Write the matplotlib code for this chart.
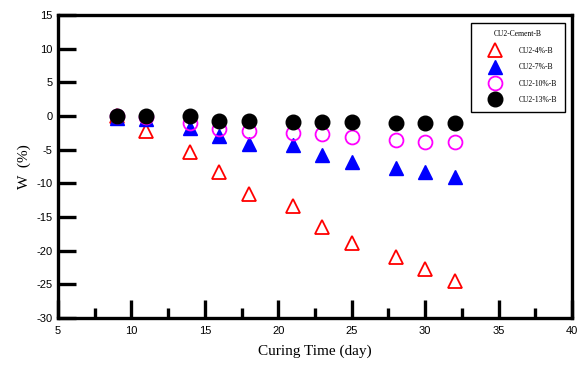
import matplotlib
matplotlib.use("Agg")
import matplotlib.pyplot as plt
from matplotlib.ticker import MultipleLocator

plt.rcParams["axes.unicode_minus"] = False

days = [9, 11, 14, 16, 18, 21, 23, 25, 28, 30, 32]
w4 = [0.0, -2.3, -5.3, -8.3, -11.6, -13.4, -16.5, -18.8, -21.0, -22.7, -24.5]
w7 = [-0.3, -0.5, -1.8, -3.0, -4.2, -4.3, -5.8, -6.9, -7.7, -8.4, -9.1]
w10 = [0.0, -0.1, -1.1, -2.0, -2.3, -2.5, -2.7, -3.2, -3.6, -3.8, -3.9]
w13 = [0.0, 0.0, 0.0, -0.8, -0.8, -0.9, -0.9, -0.9, -1.0, -1.0, -1.1]
labels = ["CU2-4%-B", "CU2-7%-B", "CU2-10%-B", "CU2-13%-B"]
legend_title = "CU2-Cement-B"

fig = plt.figure(figsize=(5.79, 3.65), dpi=100)
ax = fig.add_axes([0.100, 0.129, 0.888, 0.830])

ax.plot(days, w4, linestyle="none", marker="^", markersize=10, markerfacecolor="none",
        markeredgecolor="red", markeredgewidth=1.3, label=labels[0], zorder=3)
ax.plot(days, w7, linestyle="none", marker="^", markersize=10, markerfacecolor="blue",
        markeredgecolor="blue", label=labels[1], zorder=4)
ax.plot(days, w10, linestyle="none", marker="o", markersize=10, markerfacecolor="none",
        markeredgecolor="magenta", markeredgewidth=1.3, label=labels[2], zorder=5)
ax.plot(days, w13, linestyle="none", marker="o", markersize=10.5, markerfacecolor="black",
        markeredgecolor="black", label=labels[3], zorder=6)

ax.set_xlim(5, 40)
ax.set_ylim(-30, 15)
ax.xaxis.set_major_locator(MultipleLocator(5))
ax.xaxis.set_minor_locator(MultipleLocator(2.5))
ax.yaxis.set_major_locator(MultipleLocator(5))

for s in ax.spines.values():
    s.set_linewidth(2.4)

ax.tick_params(axis="y", which="major", direction="in", length=13, width=2.4,
               labelsize=8, left=True, right=False, pad=4)
ax.tick_params(axis="x", which="major", direction="in", length=13, width=2.4,
               labelsize=8, bottom=True, top=False, pad=6)
ax.tick_params(axis="x", which="minor", direction="in", length=7, width=2.4,
               bottom=True, top=False)
for lab in ax.get_xticklabels() + ax.get_yticklabels():
    lab.set_fontfamily("Liberation Sans")

ax.set_xlabel("Curing Time (day)", fontfamily="Liberation Serif", fontsize=11, labelpad=6)
ax.set_ylabel("W  (%)", fontfamily="Liberation Serif", fontsize=11, labelpad=4)

leg = ax.legend(loc="upper right", bbox_to_anchor=(0.986, 0.974), title=legend_title,
                prop={"family": "Liberation Serif", "size": 5.5},
                title_fontproperties={"family": "Liberation Serif", "size": 5.5},
                frameon=True, fancybox=False, edgecolor="black", framealpha=1,
                borderpad=1.0, labelspacing=1.1, handlelength=4.4, handletextpad=0.85,
                markerscale=1.0, borderaxespad=0.0)
leg.get_frame().set_linewidth(1.0)

fig.savefig("out.png", dpi=100)
